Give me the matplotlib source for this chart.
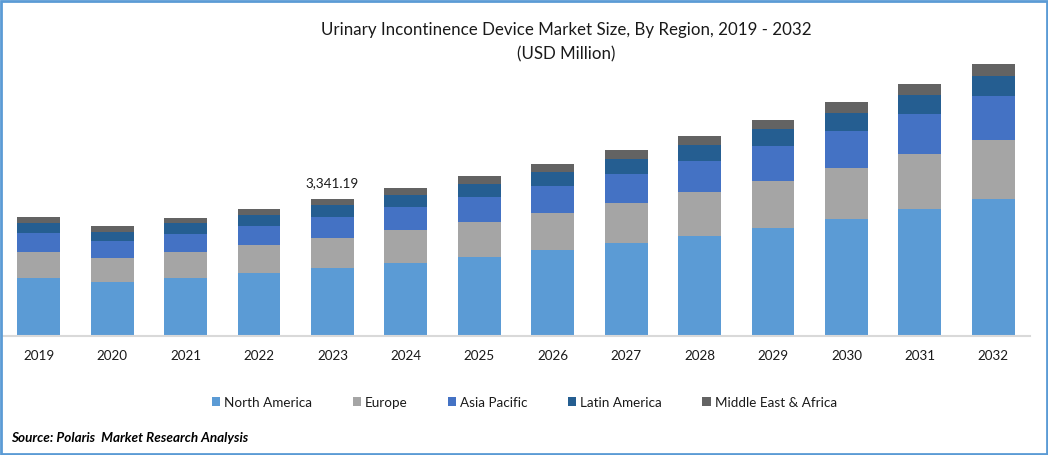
import matplotlib
matplotlib.use("Agg")
import matplotlib.pyplot as plt
from matplotlib.patches import Rectangle

# Values (USD Million)
years = ["2019", "2020", "2021", "2022", "2023", "2024", "2025", "2026",
         "2027", "2028", "2029", "2030", "2031", "2032"]
north_america = [1415, 1317, 1415, 1537, 1658, 1780, 1927, 2098, 2268, 2439, 2634, 2854, 3098, 3341]
europe = [634, 585, 634, 683, 732, 805, 854, 902, 976, 1073, 1146, 1244, 1341, 1439]
asia_pacific = [463, 415, 439, 463, 512, 561, 610, 659, 707, 756, 854, 902, 976, 1073]
latin_america = [244, 220, 268, 268, 293, 293, 317, 341, 366, 390, 415, 439, 463, 488]
middle_east_africa = [146, 146, 122, 146, 146, 171, 195, 195, 220, 220, 220, 268, 268, 293]

series = ["North America", "Europe", "Asia Pacific", "Latin America", "Middle East & Africa"]
colors = ["#5B9BD5", "#A5A5A5", "#4472C4", "#255E91", "#636363"]
total_label = "3,341.19"
label_index = 4

plt.rcParams["font.family"] = ["Lato", "DejaVu Sans"]
W, H = 1048, 456
text_color = "#1a1a1a"

fig = plt.figure(figsize=(W / 100, H / 100), dpi=100)
# axes placed in pixels: baseline at y=337, categories from x=2 to x=1030
ax = fig.add_axes([2 / W, (H - 337) / H, 1028 / W, 286 / H])

# Stack the bars
bottom = [0] * len(years)
for name, values, color in zip(series, [north_america, europe, asia_pacific, latin_america, middle_east_africa], colors):
    ax.bar(years, values, bottom=bottom, width=0.585, color=color, label=name)
    bottom = [b + v for b, v in zip(bottom, values)]

ax.set_xlim(-0.5, len(years) - 0.5)
ax.set_ylim(0, 286 * 24.39)
ax.set_yticks([])
for side in ["top", "left", "right"]:
    ax.spines[side].set_visible(False)
ax.spines["bottom"].set_color("#D9D9D9")
ax.spines["bottom"].set_linewidth(1.5)
ax.tick_params(axis="x", length=0, pad=9, labelsize=9.7, labelcolor=text_color)

# Data label on 2023
ax.annotate(total_label, (label_index, bottom[label_index]), xytext=(0, 7.5),
            textcoords="offset points", ha="center", va="bottom",
            fontsize=9.7, color=text_color)

fig.text(566 / W, 1 - 30 / H, "Urinary Incontinence Device Market Size, By Region, 2019 - 2032",
         ha="center", va="center", fontsize=12.15, color=text_color)
fig.text(566 / W, 1 - 54 / H, "(USD Million)", ha="center", va="center",
         fontsize=12.15, color=text_color)

fig.legend(loc="center", bbox_to_anchor=(524.5 / W, 1 - 403 / H), ncol=5, frameon=False,
           fontsize=9.7, handlelength=0.6, handleheight=0.6, handletextpad=0.3,
           columnspacing=3.0, labelcolor=text_color)

fig.text(11 / W, 1 - 438 / H, "Source: Polaris  Market Research Analysis",
         ha="left", va="center", fontsize=9.7, fontweight="bold", style="italic", color="black")

# Blue frame around the whole image
fig.add_artist(Rectangle((1 / W, 1 / H), (W - 2.5) / W, (H - 2.5) / H, transform=fig.transFigure,
                         fill=False, edgecolor="#5B9BD5", linewidth=2))

fig.savefig("out.png", dpi=100)
